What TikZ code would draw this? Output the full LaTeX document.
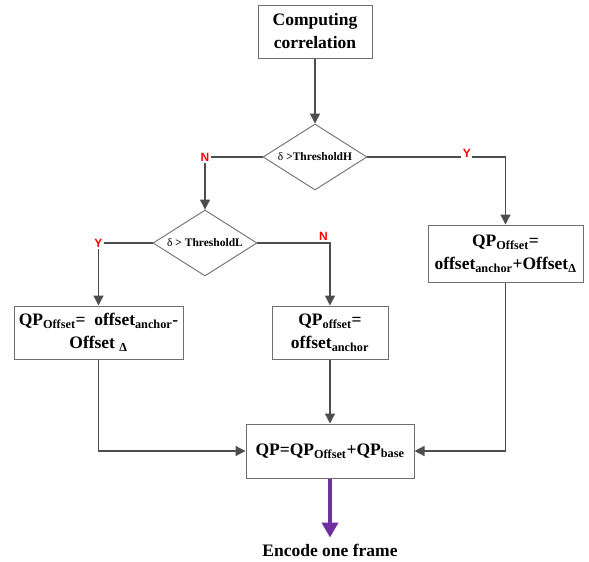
\documentclass[tikz,border=0pt]{standalone}
\usepackage{fontspec}
\setmainfont{Liberation Serif}
\setsansfont{Liberation Sans}
\usepackage{xcolor}
\usepackage{tikz}
\usetikzlibrary{shapes.geometric}
\usetikzlibrary{arrows.meta}

\definecolor{linegray}{HTML}{4D4D4D}
\definecolor{boxgray}{HTML}{6E6E6E}
\definecolor{arrowpurple}{HTML}{7030A0}

\begin{document}
\begin{tikzpicture}[x=1pt,y=-1pt,
    procbox/.style={draw=boxgray,line width=1pt,fill=white,inner sep=0pt,align=center,
      font=\bfseries\fontsize{17.5}{23}\selectfont},
    decision/.style={diamond,draw=boxgray,line width=0.9pt,inner sep=0pt,
      minimum width=104pt,minimum height=66pt,shape aspect=1.58},
    condtext/.style={font=\fontsize{11.5}{13}\selectfont},
    flowline/.style={draw=linegray,line width=1.3pt,-{Triangle[length=10pt,width=10pt]}},
    yn/.style={text=red,font=\sffamily\bfseries\fontsize{12}{13}\selectfont,inner sep=1.5pt}]
    \useasboundingbox (0,0) rectangle (589,562);
    % boxes
    \node[procbox,minimum width=114pt,minimum height=53pt] (corr) at (315,31.5)
      {Computing\\correlation};
    \node[decision,label={[condtext]center:δ \textbf{>ThresholdH}}] (dH) at (315,157) {};
    \node[decision,label={[condtext]center:δ \textbf{> ThresholdL}}] (dL) at (205,243) {};
    \node[procbox,minimum width=169pt,minimum height=53pt] (lbox) at (98.5,332.5)
      {QP\textsubscript{Offset}=~ offset\textsubscript{anchor}-\\Offset \textsubscript{Δ}};
    \node[procbox,minimum width=116pt,minimum height=53pt] (mbox) at (330,332.5)
      {QP\textsubscript{offset}=\\offset\textsubscript{anchor}};
    \node[procbox,minimum width=155pt,minimum height=57pt] (rbox) at (505.5,253.5)
      {QP\textsubscript{Offset}=\\offset\textsubscript{anchor}+Offset\textsubscript{Δ}};
    \node[procbox,minimum width=168pt,minimum height=54pt] (qp) at (330,451)
      {QP=QP\textsubscript{Offset}+QP\textsubscript{base}};
    \node[font=\bfseries\fontsize{17.5}{20}\selectfont,inner sep=2pt] (enc) at (330,550)
      {Encode one frame};
    % connectors
    \draw[flowline] (corr) -- (dH);
    \draw[flowline] (dH.west) -| node[yn,fill=white,pos=0.5] {N} (dL.north);
    \draw[flowline] (dH.east) -| node[yn,fill=white,pos=0.36,yshift=4pt] {Y} (rbox.north);
    \draw[flowline] (dL.west) -| node[yn,fill=white,pos=0.5] {Y} (lbox.north);
    \draw[flowline] (dL.east) -| node[yn,pos=0.5,anchor=south east] {N} (mbox.north);
    \draw[flowline] (lbox.south) |- (qp.west);
    \draw[flowline] (mbox) -- (qp);
    \draw[flowline] (rbox.south) |- (qp.east);
    \draw[draw=arrowpurple,line width=4pt,-{Triangle[length=15pt,width=16pt]},shorten >=4pt]
      (qp.south) -- (enc.north);
\end{tikzpicture}
\end{document}
